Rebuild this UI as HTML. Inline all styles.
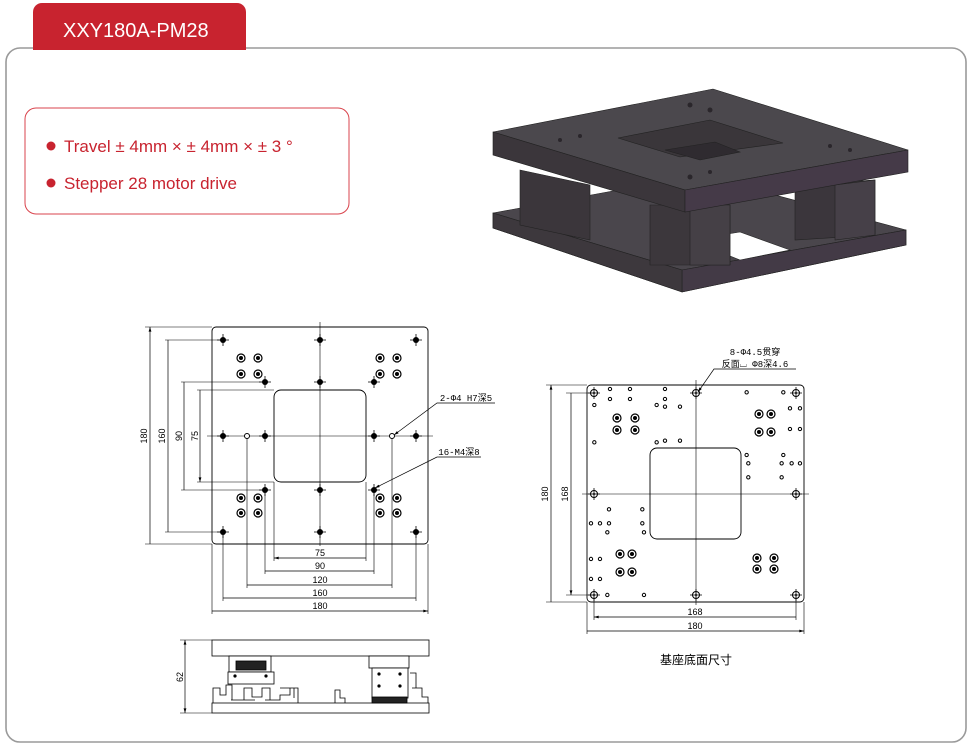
<!DOCTYPE html>
<html><head><meta charset="utf-8"><style>
body{margin:0;background:#fff;width:972px;height:746px;overflow:hidden;font-family:"Liberation Sans","Noto Sans CJK SC",sans-serif}
svg{position:absolute;left:0;top:0}
</style></head><body>
<svg width="972" height="746" viewBox="0 0 972 746" xmlns="http://www.w3.org/2000/svg" font-family="Liberation Sans, Noto Sans CJK SC, sans-serif">
<defs>
<marker id="a" viewBox="0 0 10 6" refX="10" refY="3" markerWidth="8" markerHeight="4" orient="auto-start-reverse"><path d="M0,0L10,3L0,6z" fill="#000"/></marker>
<g id="th"><circle r="3" fill="#000"/><path d="M-6,0H6M0,-6V6" stroke="#000" stroke-width="0.8"/></g>
<g id="cb"><circle r="4" fill="#fff" stroke="#000" stroke-width="1.2"/><circle r="2" fill="#000"/></g>
<g id="rh"><circle r="3.5" fill="none" stroke="#000" stroke-width="1"/><circle r="1" fill="#000"/><path d="M-6,0H6M0,-6V6" stroke="#000" stroke-width="0.8"/></g>
</defs>
<!-- frame -->
<rect x="6" y="48" width="960" height="694" rx="14" fill="#fff" stroke="#9a9a9a" stroke-width="1.6"/>
<path d="M33,50V12a9,9 0 0 1 9,-9H237a9,9 0 0 1 9,9V50z" fill="#c8232f"/>
<text x="63" y="37" fill="#fff" font-size="20">XXY180A-PM28</text>
<rect x="25" y="108" width="324" height="106" rx="11" fill="#fff" stroke="#d9434c" stroke-width="1"/>
<circle cx="51" cy="146" r="4.5" fill="#c8232f"/><circle cx="51" cy="183" r="4.5" fill="#c8232f"/>
<text x="64" y="152" fill="#c8232f" font-size="17">Travel ± 4mm × ± 4mm × ± 3 °</text>
<text x="64" y="189" fill="#c8232f" font-size="17">Stepper 28 motor drive</text>

<!-- 3D render -->
<g stroke="#222" stroke-width="0.6">
<polygon points="493,213 682,270 906,230 906,245 682,292 493,228" fill="#3a3439"/>
<polygon points="493,213 700,175 906,230 682,270" fill="#4a464c"/>
<polygon points="682,270 906,230 906,245 682,292" fill="#433a46"/>
<polygon points="493,213 682,270 682,292 493,228" fill="#3d383d"/>
<polygon points="690,240 740,232 790,250 740,260" fill="#fff"/>
<polygon points="520,170 590,185 590,240 520,225" fill="#3b363b"/>
<polygon points="650,205 730,205 730,265 650,265" fill="#3c373c"/>
<polygon points="690,205 730,205 730,265 690,265" fill="#454046"/>
<polygon points="795,185 875,180 875,235 795,240" fill="#3b363c"/>
<polygon points="835,185 875,180 875,235 835,240" fill="#464048"/>
<polygon points="493,132 713,89 908,150 685,190" fill="#4b484d"/>
<polygon points="493,132 685,190 685,212 493,155" fill="#3b363b"/>
<polygon points="685,190 908,150 908,172 685,212" fill="#453a48"/>
<polygon points="618,138 710,120 783,143 680,157" fill="#3a363a"/>
<polygon points="665,150 715,142 740,152 700,160" fill="#2f2b30"/>
</g>
<g fill="#2a262b"><circle cx="690" cy="105" r="2.5"/><circle cx="710" cy="110" r="2.5"/><circle cx="560" cy="140" r="2"/><circle cx="580" cy="136" r="2"/><circle cx="830" cy="146" r="2"/><circle cx="850" cy="150" r="2"/><circle cx="690" cy="177" r="2.5"/><circle cx="710" cy="172" r="2"/></g>

<!-- top view -->
<g fill="none" stroke="#000" stroke-width="0.9">
<rect x="212" y="327" width="216" height="217" rx="4"/>
<rect x="274" y="390" width="92" height="92" rx="7"/>
<path d="M320,322V546M207,436H433" stroke-width="0.6"/>
<!-- ext lines -->
<path d="M145,327H212M145,544H212M165,340H223M165,532H223M181,382H265M181,490H265M197,390H274M197,482H274" stroke-width="0.6"/>
<path d="M212,544V614M428,544V614M223,532V601M416,532V601M247,436V588M392,436V588M265,490V574M374,490V574M274,482V561M366,482V561" stroke-width="0.6"/>
<path d="M150,327V544M168,340V532M184,382V490M200,390V482" marker-start="url(#a)" marker-end="url(#a)" stroke-width="0.7"/>
<path d="M274,558H366M265,571H374M247,585H392M223,598H416M212,611H428" marker-start="url(#a)" marker-end="url(#a)" stroke-width="0.7"/>
<path d="M495,403H437L394,435" marker-end="url(#a)" stroke-width="0.7"/>
<path d="M481,457H437L375,488" marker-end="url(#a)" stroke-width="0.7"/>
</g>
<g>
<use href="#th" x="223" y="340"/><use href="#th" x="416" y="340"/><use href="#th" x="223" y="532"/><use href="#th" x="416" y="532"/>
<use href="#th" x="320" y="340"/><use href="#th" x="320" y="382"/><use href="#th" x="320" y="490"/><use href="#th" x="320" y="532"/>
<use href="#th" x="223" y="436"/><use href="#th" x="265" y="436"/><use href="#th" x="374" y="436"/><use href="#th" x="416" y="436"/>
<use href="#th" x="265" y="382"/><use href="#th" x="374" y="382"/><use href="#th" x="265" y="490"/><use href="#th" x="374" y="490"/>
<circle cx="247" cy="436" r="2.5" fill="#fff" stroke="#000"/><circle cx="392" cy="436" r="2.5" fill="#fff" stroke="#000"/>
<use href="#cb" x="241" y="358"/><use href="#cb" x="258" y="358"/><use href="#cb" x="241" y="374"/><use href="#cb" x="258" y="374"/>
<use href="#cb" x="380" y="358"/><use href="#cb" x="397" y="358"/><use href="#cb" x="380" y="374"/><use href="#cb" x="397" y="374"/>
<use href="#cb" x="241" y="498"/><use href="#cb" x="258" y="498"/><use href="#cb" x="241" y="513"/><use href="#cb" x="258" y="513"/>
<use href="#cb" x="380" y="498"/><use href="#cb" x="397" y="498"/><use href="#cb" x="380" y="513"/><use href="#cb" x="397" y="513"/>
</g>
<g font-size="9" fill="#000" text-anchor="middle">
<text transform="translate(147,436) rotate(-90)">180</text>
<text transform="translate(165,436) rotate(-90)">160</text>
<text transform="translate(182,436) rotate(-90)">90</text>
<text transform="translate(198,436) rotate(-90)">75</text>
<text x="320" y="556">75</text><text x="320" y="569">90</text><text x="320" y="583">120</text><text x="320" y="596">160</text><text x="320" y="609">180</text>
<text x="466" y="401" font-family="Liberation Mono, Noto Sans CJK SC, monospace">2-Φ4 H7深5</text>
<text x="459" y="455" font-family="Liberation Mono, Noto Sans CJK SC, monospace">16-M4深8</text>
</g>

<!-- side view -->
<g fill="#fff" stroke="#000" stroke-width="0.8">
<rect x="212" y="640" width="217" height="16"/>
<rect x="212" y="703" width="217" height="10"/>
<rect x="229" y="656" width="42" height="16"/>
<rect x="228" y="672" width="46" height="12"/>
<rect x="369" y="656" width="40" height="12"/>
<rect x="372" y="668" width="36" height="30"/>
<path d="M213,703V688H220V695H226V685H232V700H244V688H252V697H262V688H270V700H280V695H290V688H298V703M280,688H294V698M231,700H255M265,700H270M335,703V690H340V698H345V703" fill="none"/>
<path d="M410,673H416V688H422V697H428V703M412,688H416" fill="none"/>
<rect x="236" y="661" width="30" height="9" fill="#222"/>
<rect x="372" y="697" width="35" height="6" fill="#222"/>
<path d="M185,640V713" marker-start="url(#a)" marker-end="url(#a)" stroke-width="0.7"/>
<path d="M180,640H212M180,713H212" stroke-width="0.6"/>
</g>
<g fill="#000"><circle cx="235" cy="676" r="1.6"/><circle cx="266" cy="676" r="1.6"/><circle cx="379" cy="674" r="1.6"/><circle cx="400" cy="674" r="1.6"/><circle cx="379" cy="686" r="1.6"/><circle cx="400" cy="686" r="1.6"/></g>
<text transform="translate(183,677) rotate(-90)" font-size="9" text-anchor="middle">62</text>

<!-- base view -->
<g fill="none" stroke="#000" stroke-width="0.9">
<rect x="587" y="385" width="217" height="217" rx="4"/>
<rect x="650" y="448" width="91" height="91" rx="7"/>
<path d="M696,380V605M582,494H809" stroke-width="0.6"/>
<path d="M546,385H587M546,602H587M566,393H594M566,595H594M594,595V620M796,595V620M587,602V634M804,602V634" stroke-width="0.6"/>
<path d="M551,385V602M571,393V595" marker-start="url(#a)" marker-end="url(#a)" stroke-width="0.7"/>
<path d="M594,617H796M587,631H804" marker-start="url(#a)" marker-end="url(#a)" stroke-width="0.7"/>
<path d="M796,369H714L698,392" marker-end="url(#a)" stroke-width="0.7"/>
</g>
<g>
<use href="#rh" x="594" y="393"/><use href="#rh" x="696" y="393"/><use href="#rh" x="796" y="393"/>
<use href="#rh" x="594" y="494"/><use href="#rh" x="796" y="494"/>
<use href="#rh" x="594" y="595"/><use href="#rh" x="696" y="595"/><use href="#rh" x="796" y="595"/>
<use href="#cb" x="617" y="418"/><use href="#cb" x="635" y="418"/><use href="#cb" x="617" y="430"/><use href="#cb" x="635" y="430"/>
<use href="#cb" x="759" y="414"/><use href="#cb" x="771" y="414"/><use href="#cb" x="759" y="432"/><use href="#cb" x="771" y="432"/>
<use href="#cb" x="620" y="554"/><use href="#cb" x="632" y="554"/><use href="#cb" x="620" y="572"/><use href="#cb" x="632" y="572"/>
<use href="#cb" x="757" y="558"/><use href="#cb" x="774" y="558"/><use href="#cb" x="757" y="569"/><use href="#cb" x="774" y="569"/>
</g>
<g transform="translate(530,340) scale(0.3333)" fill="none" stroke="#000" stroke-width="3">
<circle cx="240" cy="147" r="5"/><circle cx="300" cy="147" r="5"/><circle cx="405" cy="147" r="5"/><circle cx="240" cy="177" r="5"/><circle cx="300" cy="177" r="5"/><circle cx="405" cy="177" r="5"/><circle cx="193" cy="195" r="5"/><circle cx="380" cy="195" r="5"/><circle cx="405" cy="200" r="5"/><circle cx="450" cy="200" r="5"/><circle cx="193" cy="307" r="5"/><circle cx="380" cy="307" r="5"/><circle cx="405" cy="302" r="5"/><circle cx="450" cy="302" r="5"/>
<circle cx="650" cy="157" r="5"/><circle cx="760" cy="157" r="5"/><circle cx="780" cy="205" r="5"/><circle cx="810" cy="205" r="5"/><circle cx="780" cy="267" r="5"/><circle cx="810" cy="267" r="5"/><circle cx="650" cy="345" r="5"/><circle cx="760" cy="345" r="5"/><circle cx="655" cy="370" r="5"/><circle cx="755" cy="370" r="5"/><circle cx="785" cy="370" r="5"/><circle cx="810" cy="370" r="5"/><circle cx="655" cy="412" r="5"/><circle cx="755" cy="412" r="5"/>
<circle cx="237" cy="508" r="5"/><circle cx="337" cy="508" r="5"/><circle cx="183" cy="550" r="5"/><circle cx="210" cy="550" r="5"/><circle cx="237" cy="550" r="5"/><circle cx="337" cy="550" r="5"/><circle cx="232" cy="577" r="5"/><circle cx="342" cy="577" r="5"/><circle cx="183" cy="657" r="5"/><circle cx="210" cy="657" r="5"/><circle cx="183" cy="717" r="5"/><circle cx="210" cy="717" r="5"/><circle cx="232" cy="765" r="5"/><circle cx="342" cy="765" r="5"/>
</g>
<g font-size="9" fill="#000" text-anchor="middle">
<text transform="translate(548,494) rotate(-90)">180</text>
<text transform="translate(568,494) rotate(-90)">168</text>
<text x="695" y="615">168</text><text x="695" y="629">180</text>
<text x="755" y="355" font-family="Liberation Mono, Noto Sans CJK SC, monospace">8-Φ4.5贯穿</text>
<text x="755" y="367" font-family="Liberation Mono, Noto Sans CJK SC, monospace">反面⌴ Φ8深4.6</text>
<text x="696" y="664" font-size="12">基座底面尺寸</text>
</g>
</svg>
</body></html>
